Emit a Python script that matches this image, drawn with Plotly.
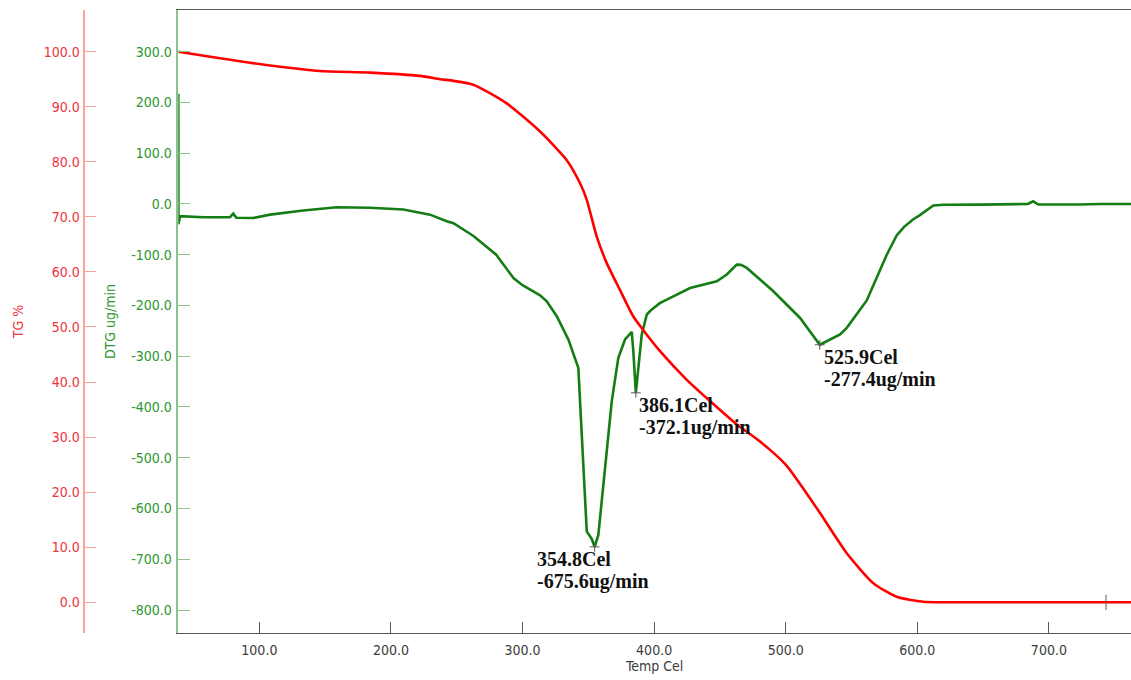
import plotly.graph_objects as go

# ---------------- data ----------------
tg_temp = [38.4, 70.1, 108.1, 146.1, 184.1, 222.1, 237.3, 247.5, 262.6, 288.0,
           313.3, 333.6, 343.7, 348.8, 356.4, 364.0, 374.1, 384.2, 391.5, 404.5,
           424.8, 445.0, 462.8, 480.0, 500.0, 521.0, 526.1, 546.4, 566.6, 584.3,
           604.6, 647.6, 700.0, 762.4]
tg_pct = [100.0, 98.8, 97.5, 96.5, 96.2, 95.6, 95.0, 94.7, 94.0, 90.6,
          85.5, 80.3, 76.1, 73.1, 66.4, 61.6, 56.7, 51.9, 49.5, 45.6,
          40.4, 36.0, 32.3, 29.3, 25.0, 18.0, 16.2, 8.9, 3.45, 1.0,
          0.1, 0.0, 0.0, 0.0]

dtg_temp = [38.4, 38.5, 39.7, 57.4, 77.7, 80.2, 82.5, 95.4, 108.1, 133.4,
            158.8, 184.1, 209.4, 229.7, 242.4, 247.5, 262.7, 267.7, 280.0, 293.1,
            300.0, 313.3, 318.4, 326.0, 335.0, 342.4, 344.9, 347.5, 348.8, 352.6,
            354.8, 357.6, 362.7, 367.8, 372.8, 377.9, 383.0, 384.2, 386.1, 388.0,
            390.6, 394.4, 396.9, 404.5, 407.0, 427.3, 447.6, 455.2, 462.8, 466.0,
            470.4, 490.6, 510.9, 525.9, 533.0, 541.3, 546.4, 561.6, 566.6, 576.8,
            584.3, 590.0, 597.0, 602.0, 612.2, 620.0, 647.6, 672.9, 684.0, 688.1,
            692.0, 723.6, 738.8, 762.4]
dtg_val = [217.0, -40.0, -24.0, -26.0, -26.0, -19.0, -27.0, -27.6, -21.0, -13.0,
           -6.5, -7.5, -11.0, -21.0, -34.0, -38.0, -63.0, -73.5, -100.0, -145.8,
           -160.0, -180.0, -191.7, -221.0, -268.0, -323.0, -454.0, -586.0, -645.0, -660.0,
           -675.6, -652.0, -520.0, -389.0, -303.0, -267.0, -252.0, -290.0, -372.1, -323.0,
           -257.0, -218.0, -211.0, -195.0, -192.0, -165.5, -152.3, -139.0, -119.4, -120.0,
           -126.0, -172.0, -224.6, -277.4, -268.0, -257.0, -244.0, -190.0, -160.0, -100.0,
           -62.0, -45.0, -30.0, -22.0, -3.0, -1.5, -1.3, -1.0, 0.0, 5.3,
           -1.0, -1.0, 0.0, 0.0]

peak_temp = [354.8, 386.1, 525.9]
peak_dtg = [-675.6, -372.1, -277.4]
peak_xshift = [-60, 1, 2]

x_ticks = [100, 200, 300, 400, 500, 600, 700]
tg_ticks = [0, 10, 20, 30, 40, 50, 60, 70, 80, 90, 100]
dtg_ticks = [-800, -700, -600, -500, -400, -300, -200, -100, 0, 100, 200, 300]

cursor_temp = [743.4]
cursor_tg = [0.0]

# ---------------- styling ----------------
W, H = 1131, 680
TICK_FONT = "DejaVu Sans Condensed, Liberation Sans, sans-serif"
RED = "#ff0000"
RED_TXT = "rgb(238,50,60)"
RED_AXIS = "rgb(255,160,160)"
GREEN = "rgb(20,125,20)"
GREEN_TXT = "rgb(45,150,45)"
GREEN_AXIS = "rgb(140,195,140)"
GRAY = "rgb(90,90,90)"

fig = go.Figure()

fig.add_trace(go.Scatter(
    x=dtg_temp, y=dtg_val, mode="lines", yaxis="y",
    line=dict(color=GREEN, width=2.6), showlegend=False, hoverinfo="x+y"))

fig.add_trace(go.Scatter(
    x=tg_temp, y=tg_pct, mode="lines", yaxis="y2",
    line=dict(color=RED, width=2.6, shape="spline", smoothing=0.6),
    showlegend=False, hoverinfo="x+y"))

fig.add_trace(go.Scatter(
    x=peak_temp, y=peak_dtg, mode="markers", yaxis="y",
    marker=dict(symbol="cross-thin", size=7, line=dict(color=GRAY, width=1)),
    showlegend=False, hoverinfo="skip"))

fig.add_trace(go.Scatter(
    x=cursor_temp, y=cursor_tg, mode="markers", yaxis="y2",
    marker=dict(symbol="line-ns", size=11, line=dict(color=GRAY, width=1)),
    showlegend=False, hoverinfo="skip"))

annotations = []
for t, v, xs in zip(peak_temp, peak_dtg, peak_xshift):
    for txt, ys in ((f"{t:.1f}Cel", -12.5), (f"{v:.1f}ug/min", -34.5)):
        annotations.append(dict(
            x=t, y=v, xref="x", yref="y", text=f"<b>{txt}</b>", showarrow=False,
            xanchor="left", yanchor="middle", xshift=xs, yshift=ys,
            font=dict(family="Liberation Serif, Times New Roman, serif", size=20, color="#111111")))

plot_left = 178.3
plot_top = 9.7
plot_bottom = 633.3
fig.update_layout(
    width=W, height=H,
    margin=dict(l=0, r=0, t=plot_top, b=H - plot_bottom, autoexpand=False),
    paper_bgcolor="white", plot_bgcolor="white",
    annotations=annotations,
    xaxis=dict(
        domain=[plot_left / W, 1.0], range=[38.4, 762.4],
        tickvals=x_ticks, ticktext=[f"{v:.1f}" for v in x_ticks],
        ticks="inside", ticklen=11, tickcolor=GRAY, tickwidth=1,
        showline=True, linecolor=GRAY, linewidth=1, mirror=True,
        showgrid=False, zeroline=False, ticklabelstandoff=4,
        tickfont=dict(family=TICK_FONT, size=14, color="rgb(60,60,60)"),
        title=dict(text="Temp Cel", standoff=2,
                   font=dict(family=TICK_FONT, size=14, color="rgb(60,60,60)")),
    ),
    yaxis=dict(
        range=[-845.3, 382.2],
        tickvals=dtg_ticks, ticktext=[f"{v:.1f}" for v in dtg_ticks],
        ticks="inside", ticklen=12, tickcolor=GREEN_AXIS, tickwidth=1,
        showline=True, linecolor=GREEN_AXIS, linewidth=1.5,
        showgrid=False, zeroline=False, automargin=False, ticklabelstandoff=2,
        tickfont=dict(family=TICK_FONT, size=14, color=GREEN_TXT),
        title=dict(text="DTG ug/min", standoff=12,
                   font=dict(family=TICK_FONT, size=14, color=GREEN_TXT)),
    ),
    yaxis2=dict(
        overlaying="y", side="left", anchor="free", position=84.3 / W,
        range=[-5.58, 107.57],
        tickvals=tg_ticks, ticktext=[f"{v:.1f}" for v in tg_ticks],
        ticks="inside", ticklen=11, tickcolor=RED_AXIS, tickwidth=1,
        showline=True, linecolor=RED_AXIS, linewidth=1.5,
        showgrid=False, zeroline=False, automargin=False, ticklabelstandoff=1,
        tickfont=dict(family=TICK_FONT, size=14, color=RED_TXT),
        title=dict(text="TG %", standoff=16,
                   font=dict(family=TICK_FONT, size=14, color=RED_TXT)),
    ),
)

# remove the default 8 px page margin so the figure fills the window exactly
fig.write_html(
    "out.html",
    config={"displayModeBar": False},
    post_script="document.body.style.margin='0';document.body.style.overflow='hidden';",
)
